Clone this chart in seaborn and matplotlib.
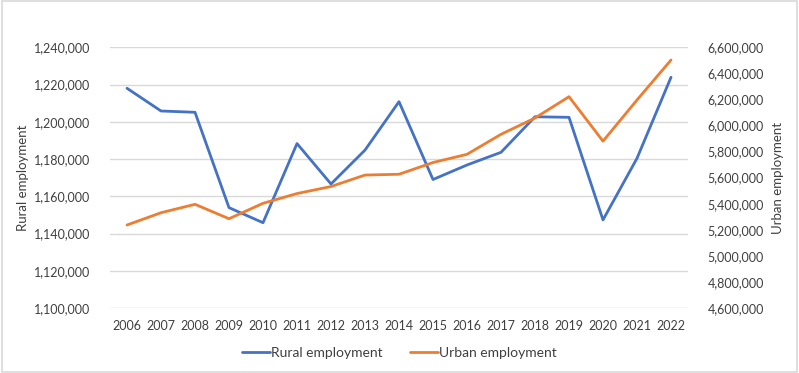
import pandas as pd
import seaborn as sns
import matplotlib.pyplot as plt
from matplotlib.ticker import FuncFormatter
from matplotlib.lines import Line2D
from matplotlib.patches import Rectangle

years = [2006, 2007, 2008, 2009, 2010, 2011, 2012, 2013, 2014,
         2015, 2016, 2017, 2018, 2019, 2020, 2021, 2022]
rural = [1218000, 1205800, 1205100, 1153900, 1145800, 1188300, 1166600, 1184800, 1210800,
         1169000, 1176800, 1183600, 1202700, 1202400, 1147300, 1180400, 1223900]
urban = [5236700, 5331000, 5395500, 5285000, 5403000, 5478000, 5532000, 5620000, 5626000,
         5716000, 5779000, 5932500, 6057600, 6221000, 5880000, 6196000, 6502600]

blue = "#4472C4"
orange = "#ED7D31"
txt = "#404040"

sns.set_style("white")
plt.rcParams['font.family'] = ['Lato', 'DejaVu Sans']

df = pd.DataFrame({"pos": range(len(years)), "year": years,
                   "rural": rural, "urban": urban})

fig = plt.figure(figsize=(7.99, 3.73), dpi=100)
ax = fig.add_axes([110 / 799, 1 - 308 / 373, (688 - 110) / 799, (308 - 47.3) / 373])
ax2 = ax.twinx()

sns.lineplot(data=df, x="pos", y="rural", color=blue, lw=2.0, ax=ax, zorder=3)
sns.lineplot(data=df, x="pos", y="urban", color=orange, lw=2.0, ax=ax2, zorder=3)

ax.set_xlim(-0.5, len(years) - 0.5)
ax.set_ylim(1100000, 1240000)
ax.set_yticks(range(1100000, 1240001, 20000))
ax2.set_ylim(4600000, 6600000)
ax2.set_yticks(range(4600000, 6600001, 200000))
ax.set_xticks(df["pos"])
ax.set_xticklabels(years)

fmt = FuncFormatter(lambda v, p: f"{int(v):,}")
ax.yaxis.set_major_formatter(fmt)
ax2.yaxis.set_major_formatter(fmt)

ax.grid(axis="y", color="#D9D9D9", lw=1)
ax.set_axisbelow(True)
for a in (ax, ax2):
    for s in a.spines.values():
        s.set_visible(False)
    a.tick_params(length=0, labelsize=9, colors=txt)
ax.tick_params(axis="y", pad=14)
ax.tick_params(axis="x", pad=9)
ax2.tick_params(axis="y", pad=14)

ax.set_xlabel("")
ax.set_ylabel("Rural employment", fontsize=9.5, color=txt)
ax2.set_ylabel("Urban employment", fontsize=9.5, color=txt)
ax.yaxis.set_label_coords((29 - 110) / 578, 0.5)
ax2.yaxis.set_label_coords((772 - 110) / 578, 0.5)

handles = [Line2D([], [], color=blue, lw=2.0), Line2D([], [], color=orange, lw=2.0)]
fig.legend(handles, ["Rural employment", "Urban employment"], loc="center",
           bbox_to_anchor=(0.5, 1 - 353 / 373), ncol=2, frameon=False,
           fontsize=10, handlelength=2.0, handletextpad=0.1, columnspacing=2.0,
           labelcolor=txt)

fig.patches.append(Rectangle((0.002, 0.003), 0.995, 0.993, transform=fig.transFigure,
                             fill=False, edgecolor="#D9D9D9", lw=1.2))

fig.savefig("out.png", dpi=100)
